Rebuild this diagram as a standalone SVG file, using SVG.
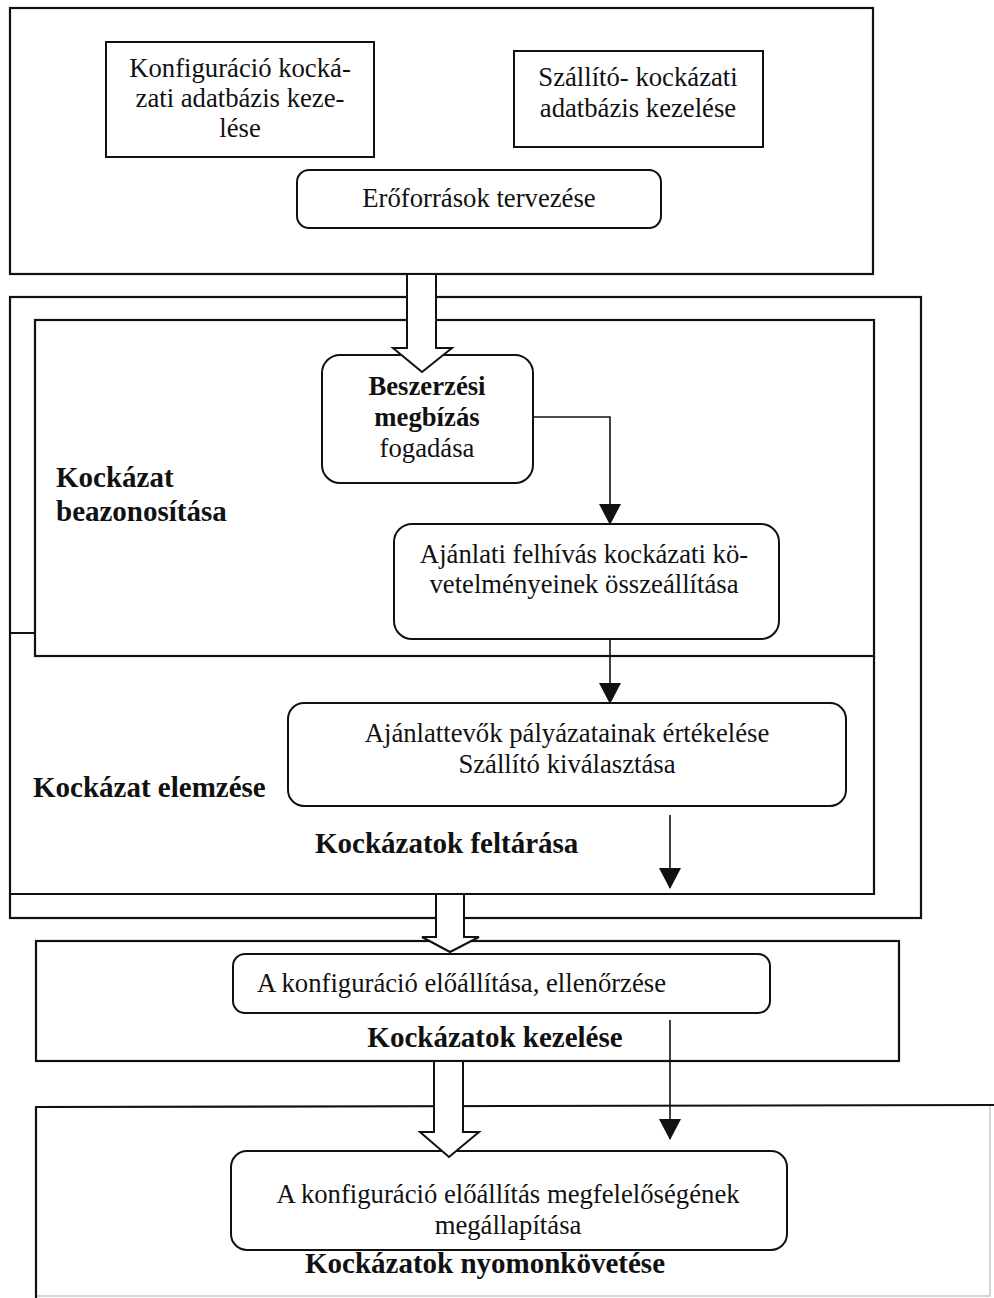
<svg xmlns="http://www.w3.org/2000/svg" width="994" height="1298" viewBox="0 0 994 1298">
<style>
.frame{fill:none;stroke:#111;stroke-width:2.2}
.faint{fill:none;stroke:#c8c8c8;stroke-width:1.5}
.box{fill:#fff;stroke:#111;stroke-width:2}
.rbox{fill:#fff;stroke:#111;stroke-width:2}
.t{font-family:"Liberation Serif","Times New Roman",serif;font-size:26.7px;fill:#111}
.b{font-family:"Liberation Serif","Times New Roman",serif;font-size:29px;font-weight:bold;fill:#111}
.bi{font-weight:bold}
.c{text-anchor:middle}
.con{fill:none;stroke:#111;stroke-width:1.6}
.hollow{fill:#fff;stroke:#111;stroke-width:2;stroke-linejoin:miter}
</style>
<defs>
<marker id="ah" markerUnits="userSpaceOnUse" markerWidth="21" markerHeight="22" viewBox="0 0 21 22" refX="20" refY="11" orient="auto">
<path d="M0,0 L21,11 L0,22 Z" fill="#111"/>
</marker>
</defs>
<rect width="994" height="1298" fill="#fff"/>

<g id="stage-planning">
<rect class="frame" x="10" y="8" width="863" height="266"/>
</g>
<g id="node-konfig-db">
<rect class="box" x="106" y="42" width="268" height="115"/>
<text class="t c" x="240" y="77">Konfiguráció kocká-</text>
<text class="t c" x="240" y="107">zati adatbázis keze-</text>
<text class="t c" x="240" y="137">lése</text>
</g>
<g id="node-szallito-db">
<rect class="box" x="514" y="51" width="249" height="96"/>
<text class="t c" x="638" y="86">Szállító- kockázati</text>
<text class="t c" x="638" y="117">adatbázis kezelése</text>
</g>
<g id="node-eroforrasok">
<rect class="rbox" x="297" y="170" width="364" height="58" rx="12"/>
<text class="t c" x="479" y="207">Erőforrások tervezése</text>
</g>

<g id="stage-identification-analysis">
<rect class="frame" x="10" y="297" width="911" height="621"/>
<rect class="frame" x="35" y="320" width="839" height="336"/>
<path class="frame" d="M874,656 L874,894 L10,894 M10,633 L35,633"/>
<text class="b" x="56" y="487">Kockázat</text>
<text class="b" x="56" y="521">beazonosítása</text>
<text class="b" x="33" y="797">Kockázat elemzése</text>
<text class="b" x="315" y="853">Kockázatok feltárása</text>
</g>
<g id="node-beszerzesi">
<rect class="rbox" x="322" y="355" width="211" height="128" rx="18"/>
<text class="t c bi" x="427" y="395">Beszerzési</text>
<text class="t c bi" x="427" y="426">megbízás</text>
<text class="t c" x="427" y="457">fogadása</text>
</g>
<g id="node-ajanlati">
<rect class="rbox" x="394" y="524" width="385" height="115" rx="18"/>
<text class="t c" x="584" y="563">Ajánlati felhívás kockázati kö-</text>
<text class="t c" x="584" y="593">vetelményeinek összeállítása</text>
</g>
<g id="node-ertekeles">
<rect class="rbox" x="288" y="703" width="558" height="103" rx="16"/>
<text class="t c" x="567" y="742">Ajánlattevők pályázatainak értékelése</text>
<text class="t c" x="567" y="773">Szállító kiválasztása</text>
</g>

<g id="stage-handling">
<rect class="frame" x="36" y="941" width="863" height="120"/>
<text class="b c" x="495" y="1047">Kockázatok kezelése</text>
</g>
<g id="node-konfig-eloallitas">
<rect class="rbox" x="233" y="954" width="537" height="59" rx="12"/>
<text class="t" x="257" y="992">A konfiguráció előállítása, ellenőrzése</text>
</g>

<g id="stage-monitoring">
<path class="faint" d="M990,1106 L990,1296 L36,1296"/>
<path class="frame" d="M36,1298 L36,1107 L994,1105"/>
<text class="b c" x="485" y="1273">Kockázatok nyomonkövetése</text>
</g>
<g id="node-megfeleloseg">
<rect class="rbox" x="231" y="1151" width="556" height="99" rx="16"/>
<text class="t c" x="508" y="1203">A konfiguráció előállítás megfelelőségének</text>
<text class="t c" x="508" y="1234">megállapítása</text>
</g>

<g id="connectors">
<path class="con" d="M533,417 L610,417 L610,524" marker-end="url(#ah)"/>
<path class="con" d="M610,639 L610,703" marker-end="url(#ah)"/>
<path class="con" d="M670,815 L670,888" marker-end="url(#ah)"/>
<path class="con" d="M670,1020 L670,1139" marker-end="url(#ah)"/>
<path class="hollow" d="M407,274 L436,274 L436,348 L452,348 L422,372 L393,348 L407,348 Z"/>
<path class="hollow" d="M436,894 L464,894 L464,937 L479,937 L450,952 L422,937 L436,937 Z"/>
<path class="hollow" d="M434,1061 L463,1061 L463,1132 L479,1132 L449,1157 L420,1132 L434,1132 Z"/>
</g>
</svg>
